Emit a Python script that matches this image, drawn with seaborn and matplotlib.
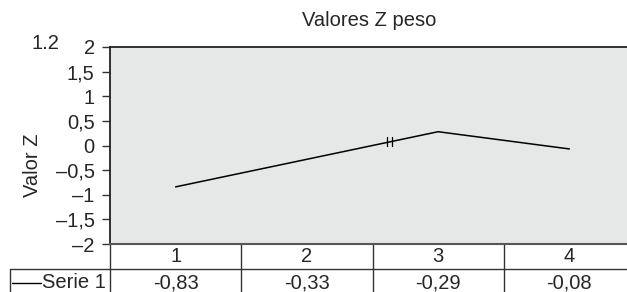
import numpy as np
import pandas as pd
import matplotlib
matplotlib.use("Agg")
import matplotlib.pyplot as plt
import seaborn as sns

# datos
categorias = [1, 2, 3, 4]
valores_z = [-0.84, -0.28, 0.28, -0.07]          # valores dibujados por la linea
etiquetas_tabla = ["-0,83", "-0,33", "-0,29", "-0,08"]  # valores impresos en la tabla
y_ticks = [2, 1.5, 1, 0.5, 0, -0.5, -1, -1.5, -2]
serie = "Serie 1"

FS = 14.5

sns.set_style("white")
plt.rcParams['font.family'] = ['Liberation Sans', 'DejaVu Sans']

fig = plt.figure(figsize=(6.27, 2.92), dpi=100)
ax = fig.add_axes([110 / 627, 1 - 244 / 292, 525 / 627, 197 / 292])
ax.set_facecolor("#e6e7e7")

df = pd.DataFrame({"x": categorias, "z": valores_z})
sns.lineplot(data=df, x="x", y="z", color="black", linewidth=1.1, ax=ax)

# marca de corte sobre la linea
xb = 2.63
yb = np.interp(xb, categorias, valores_z)
for dx in (-0.02, 0.02):
    ax.plot([xb + dx, xb + dx], [yb - 0.09, yb + 0.09], color="black", lw=0.9)

ax.set_xlim(0.5, 4.5)
ax.set_ylim(-2, 2)
ax.set_yticks(y_ticks)
ax.set_yticklabels([("%g" % v).replace("-", "\u2013").replace(".", ",") for v in y_ticks])
ax.tick_params(axis="y", direction="out", length=6, width=1, color="#333333",
               labelsize=FS, pad=5, left=True)
ax.set_xticks([])
ax.set_xlabel("")
ax.set_ylabel("Valor Z", fontsize=FS)
ax.yaxis.set_label_coords(-0.129, 0.40)

for s in ["left", "top"]:
    ax.spines[s].set_visible(True)
    ax.spines[s].set_color("#222222")
    ax.spines[s].set_linewidth(1.3)
ax.spines["right"].set_visible(False)
ax.spines["bottom"].set_color("#555555")
ax.spines["bottom"].set_linewidth(1.5)

fig.text(369 / 627, 1 - 21 / 292, "Valores Z peso", ha="center", va="center", fontsize=FS)
fig.text(45 / 627, 1 - 44 / 292, "1.2", ha="center", va="center", fontsize=FS)

# tabla de datos bajo el eje
tr = ax.get_xaxis_transform()
px = 197.0  # alto del eje en pixeles
row_end = -60 / px
for i, c in enumerate(categorias):
    ax.text(c, -12 / px, str(c), transform=tr, ha="center", va="center", fontsize=FS, clip_on=False)
    ax.text(c, -39 / px, etiquetas_tabla[i], transform=tr, ha="center", va="center", fontsize=FS, clip_on=False)
    ax.plot([c + 0.5, c + 0.5], [0, row_end], transform=tr, color="#333333", lw=1, clip_on=False)
ax.plot([0.5, 0.5], [0, row_end], transform=tr, color="#333333", lw=1, clip_on=False)

# fila de la serie
fig.add_artist(plt.Line2D([10 / 627, 1], [1 - 269 / 292] * 2, color="#333333", lw=1))
fig.add_artist(plt.Line2D([10 / 627, 10 / 627], [1 - 269 / 292, 0], color="#333333", lw=1))
fig.add_artist(plt.Line2D([12 / 627, 41 / 627], [1 - 283 / 292] * 2, color="black", lw=1))
fig.text(42 / 627, 1 - 283 / 292, serie, ha="left", va="center", fontsize=FS)

fig.savefig("out.png", dpi=100)
